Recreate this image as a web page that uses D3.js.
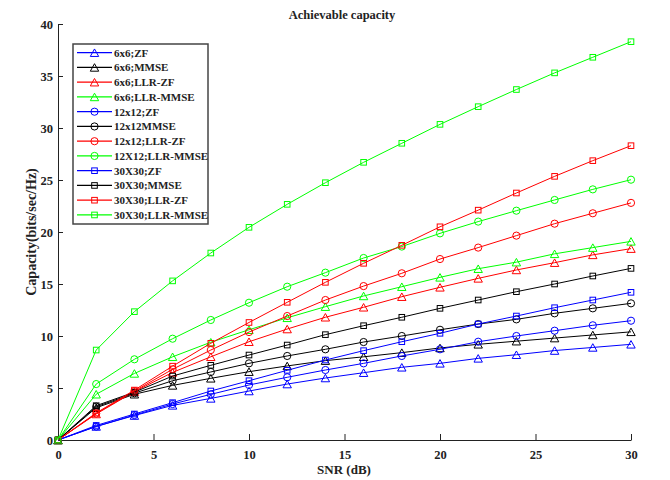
<!DOCTYPE html>
<html>
<head>
<meta charset="utf-8">
<script src="https://cdn.jsdelivr.net/npm/d3@7/dist/d3.min.js"></script>
<style>
  html, body { margin: 0; padding: 0; background: #fff; }
  svg { display: block; }
  text { font-family: "Liberation Serif", "Times New Roman", serif; font-weight: bold; fill: #222; }
</style>
</head>
<body>
<svg id="chart" width="670" height="480"></svg>
<script>
// ---- data ----
const snr = [0, 2, 4, 6, 8, 10, 12, 14, 16, 18, 20, 22, 24, 26, 28, 30];
const xTicks = [0, 5, 10, 15, 20, 25, 30];
const yTicks = [0, 5, 10, 15, 20, 25, 30, 35, 40];
const seriesNames = ["6x6;ZF", "6x6;MMSE", "6x6;LLR-ZF", "6x6;LLR-MMSE",
  "12x12;ZF", "12x12MMSE", "12x12;LLR-ZF", "12X12;LLR-MMSE",
  "30X30;ZF", "30X30;MMSE", "30X30;LLR-ZF", "30X30;LLR-MMSE"];
const seriesColors = ["#0000ff", "#000000", "#ff0000", "#00ff00",
  "#0000ff", "#000000", "#ff0000", "#00ff00",
  "#0000ff", "#000000", "#ff0000", "#00ff00"];
const seriesMarkers = ["triangle", "triangle", "triangle", "triangle",
  "circle", "circle", "circle", "circle",
  "square", "square", "square", "square"];

const zf6      = [0, 1.3, 2.35, 3.33, 4.0, 4.71, 5.38, 5.96, 6.47, 6.99, 7.37, 7.85, 8.2, 8.6, 8.9, 9.2];
const mmse6    = [0, 3.1, 4.4, 5.25, 5.93, 6.57, 7.12, 7.63, 8.0, 8.4, 8.85, 9.2, 9.5, 9.8, 10.1, 10.4];
const llrzf6   = [0, 2.5, 4.65, 6.5, 8.0, 9.45, 10.67, 11.8, 12.76, 13.78, 14.68, 15.54, 16.35, 17.05, 17.8, 18.4];
const llrmmse6 = [0, 4.4, 6.4, 8.0, 9.4, 10.6, 11.75, 12.82, 13.85, 14.74, 15.64, 16.47, 17.1, 17.9, 18.5, 19.1];
const zf12      = [0, 1.3, 2.4, 3.46, 4.39, 5.29, 6.03, 6.73, 7.37, 8.08, 8.72, 9.45, 10.0, 10.51, 11.03, 11.47];
const mmse12    = [0, 3.2, 4.5, 5.7, 6.54, 7.37, 8.08, 8.72, 9.42, 10.0, 10.6, 11.15, 11.6, 12.18, 12.66, 13.14];
const llrzf12   = [0, 2.55, 4.7, 6.8, 8.65, 10.38, 11.92, 13.46, 14.8, 16.03, 17.4, 18.5, 19.65, 20.8, 21.8, 22.8];
const llrmmse12 = [0, 5.38, 7.76, 9.74, 11.54, 13.2, 14.74, 16.09, 17.5, 18.6, 19.87, 21.0, 22.05, 23.08, 24.1, 25.03];
const zf30      = [0, 1.4, 2.5, 3.59, 4.71, 5.7, 6.7, 7.69, 8.59, 9.45, 10.26, 11.15, 11.92, 12.72, 13.46, 14.2];
const mmse30    = [0, 3.3, 4.6, 6.15, 7.18, 8.17, 9.13, 10.13, 10.99, 11.8, 12.66, 13.46, 14.26, 15.0, 15.77, 16.5];
const llrzf30   = [0, 2.6, 4.8, 7.1, 9.3, 11.3, 13.24, 15.16, 16.99, 18.72, 20.5, 22.1, 23.75, 25.35, 26.86, 28.3];
const llrmmse30 = [0, 8.65, 12.34, 15.3, 17.98, 20.45, 22.66, 24.74, 26.7, 28.53, 30.35, 32.05, 33.7, 35.3, 36.8, 38.3];

const seriesValues = [zf6, mmse6, llrzf6, llrmmse6, zf12, mmse12, llrzf12, llrmmse12, zf30, mmse30, llrzf30, llrmmse30];

// ---- layout ----
const svg = d3.select("#chart");
const W = 670, H = 480;
const m = { left: 58, right: 39, top: 24, bottom: 40 };
svg.append("rect").attr("width", W).attr("height", H).attr("fill", "#fff");

const x = d3.scaleLinear().domain([0, 30]).range([m.left, W - m.right]);
const y = d3.scaleLinear().domain([0, 40]).range([H - m.bottom, m.top]);

// axes (ticks pointing inward, MATLAB-style, box off)
const xAxis = d3.axisBottom(x).tickValues(xTicks).tickSizeInner(-6).tickSizeOuter(0).tickPadding(10);
const yAxis = d3.axisLeft(y).tickValues(yTicks).tickSizeInner(-5).tickSizeOuter(0).tickPadding(5);

const gx = svg.append("g").attr("transform", `translate(0,${H - m.bottom})`).call(xAxis);
const gy = svg.append("g").attr("transform", `translate(${m.left},0)`).call(yAxis);
[gx, gy].forEach(g => {
  g.select(".domain").attr("stroke", "#222").attr("stroke-width", 1);
  g.selectAll(".tick line").attr("stroke", "#222").attr("stroke-width", 1);
  g.selectAll(".tick text").style("font-family", "'Liberation Serif', serif")
    .style("font-weight", "bold").style("font-size", "12.5px").attr("fill", "#222");
});

// title and labels
svg.append("text").attr("x", 342).attr("y", 19).attr("text-anchor", "middle")
  .style("font-size", "12.5px").text("Achievable capacity");
svg.append("text").attr("x", 344).attr("y", 474).attr("text-anchor", "middle")
  .style("font-size", "13px").text("SNR (dB)");
svg.append("text").attr("transform", `translate(36,232) rotate(-90)`).attr("text-anchor", "middle")
  .style("font-size", "14px").text("Capacity(bits/sec/Hz)");

// marker drawer
function drawMarker(g, type, cx, cy, color) {
  if (type === "triangle") {
    const w = 4.2, h = 7.5;
    g.append("path")
      .attr("d", `M${cx},${cy - h / 2} L${cx + w},${cy + h / 2} L${cx - w},${cy + h / 2} Z`)
      .attr("fill", "none").attr("stroke", color).attr("stroke-width", 1);
  } else if (type === "circle") {
    g.append("circle").attr("cx", cx).attr("cy", cy).attr("r", 3.6)
      .attr("fill", "none").attr("stroke", color).attr("stroke-width", 1);
  } else {
    const s = 5.6;
    g.append("rect").attr("x", cx - s / 2).attr("y", cy - s / 2).attr("width", s).attr("height", s)
      .attr("fill", "none").attr("stroke", color).attr("stroke-width", 1);
  }
}

const line = d3.line().x((d, i) => x(snr[i])).y(d => y(d));
const plot = svg.append("g");
seriesValues.forEach((vals, k) => {
  const g = plot.append("g");
  g.append("path").datum(vals).attr("d", line)
    .attr("fill", "none").attr("stroke", seriesColors[k]).attr("stroke-width", 1);
  vals.forEach((v, i) => drawMarker(g, seriesMarkers[k], x(snr[i]), y(v), seriesColors[k]));
});

// legend
const lg = svg.append("g");
const lx = 73, ly = 44, lw = 135, lh = 180, rowH = 14.75, firstRow = 52.7;
lg.append("rect").attr("x", lx).attr("y", ly).attr("width", lw).attr("height", lh)
  .attr("fill", "#fff").attr("stroke", "#444").attr("stroke-width", 1.5);
seriesNames.forEach((name, k) => {
  const ry = firstRow + k * rowH;
  lg.append("line").attr("x1", 77).attr("x2", 112).attr("y1", ry).attr("y2", ry)
    .attr("stroke", seriesColors[k]).attr("stroke-width", 1.2);
  drawMarker(lg, seriesMarkers[k], 94.5, ry, seriesColors[k]);
  lg.append("text").attr("x", 114).attr("y", ry + 4).style("font-size", "11px").text(name);
});
</script>
</body>
</html>
